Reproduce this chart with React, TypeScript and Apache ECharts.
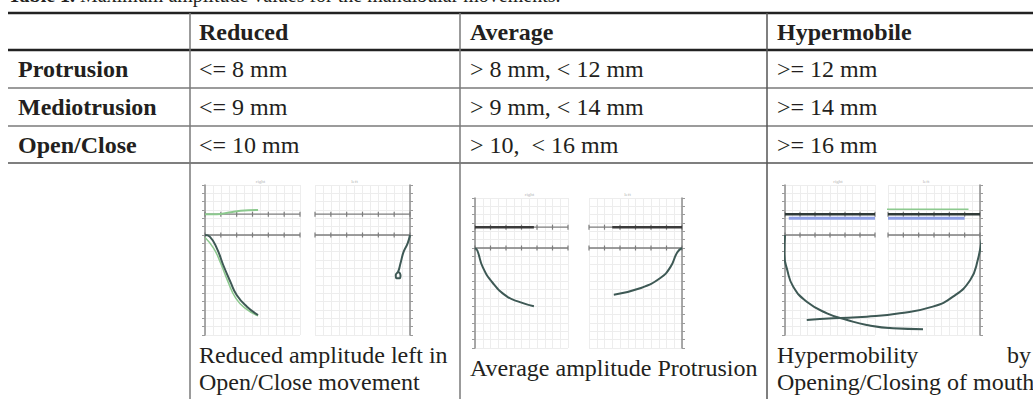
import React, { useEffect, useRef } from "react";
import * as echarts from "echarts";

// ---------- content ----------
const TITLE_BOLD = "Table 1.";
const TITLE_REST = " Maximum amplitude values for the mandibular movements.";
const COLUMN_HEADERS = ["Reduced", "Average", "Hypermobile"];
const ROW_LABELS = ["Protrusion", "Mediotrusion", "Open/Close"];
const REDUCED_VALUES = ["<= 8 mm", "<= 9 mm", "<= 10 mm"];
const AVERAGE_VALUES = ["> 8 mm, < 12 mm", "> 9 mm, < 14 mm", "> 10,  < 16 mm"];
const HYPER_VALUES = [">= 12 mm", ">= 14 mm", ">= 16 mm"];
const PANEL_TAGS = ["right", "left"];

// ---------- plot data (mm) ----------
const RULER_LEFT_X = [0, 2, 4, 6, 8, 10, 12];
const RULER_RIGHT_X = [-12, -10, -8, -6, -4, -2, 0];
const RULER_LEVELS = [0, 2.5];

const reducedLeftOpen = [[0, 0], [0.6, -0.2], [1.5, -1.6], [2.3, -3.6], [3.2, -5.6], [4.0, -7.2], [5.3, -8.6], [6.7, -9.6]];
const reducedLeftClose = [[0, -0.3], [1.1, -1.6], [1.9, -3.2], [2.9, -5.6], [3.9, -7.6], [5.1, -8.8], [6.7, -9.7]];
const reducedLeftTop = [[0, 2.5], [1.5, 2.5], [3.0, 2.7], [4.5, 2.9], [6.7, 3.0]];
const reducedRight = [[0, 0], [-0.3, -1], [-0.8, -2], [-1.2, -3.4], [-1.5, -4.4], [-1.8, -4.8], [-1.7, -5.2], [-1.3, -5.2], [-1.2, -4.8], [-1.5, -4.4]];

const averageLeft = [[0, 0], [0.3, -0.3], [1.0, -2.3], [2.3, -4.2], [4.1, -5.8], [5.8, -6.5], [7.6, -7.0]];
const averageLeftTop = [[0, 2.5], [7.6, 2.5]];
const averageRight = [[0, 0], [-0.6, -0.5], [-1.5, -2.3], [-2.8, -3.6], [-5.3, -4.8], [-8.8, -5.6]];
const averageRightTop = [[-9, 2.5], [0, 2.5]];

// hypermobile open/close traces, measured from the left-hand axis (both panels together)
const hyperOpenLeftSide = [[0, 0], [-0.1, -2.2], [0.3, -4.2], [1.1, -6.2], [2.9, -8.0], [5.6, -9.4], [8.3, -10.2], [10.9, -10.8], [14.4, -11.2], [18.4, -11.3]];
const hyperOpenRightSide = [[26.3, 0], [25.7, -3], [24.7, -5.4], [22.4, -7.4], [19.7, -8.6], [15.3, -9.4], [10.9, -9.8], [6.4, -10.0], [2.9, -10.2]];
const hyperLeftTop = [[0, 2.5], [12, 2.5]];
const hyperRightTop = [[-12, 2.5], [0, 2.5]];
const hyperLeftBlue = [[0.5, 2.0], [12, 2.0]];
const hyperRightBlue = [[-12, 2.0], [-2, 2.0]];
const hyperRightGreen = [[-13, 3.1], [-1.5, 3.1]];

// ---------- layout ----------
const W = 1033;
const H = 399;
const COL_X = [8, 190, 460, 767];
const ROW_Y = [13, 50, 88, 126, 163];
const TEXT_X = [18, 199, 470, 777];
const FONT = "Liberation Serif";

const PANELS = [
  { left: 205, top: 185, width: 95, side: "left" },
  { left: 315, top: 185, width: 95, side: "right" },
  { left: 475, top: 198, width: 93, side: "left" },
  { left: 589, top: 198, width: 93, side: "right" },
  { left: 785, top: 185, width: 90, side: "left" },
  { left: 888, top: 185, width: 92, side: "right" },
];
const PANEL_H = 150;
const OVERLAY = { left: 785, top: 185, width: 195, xMax: 26 };

const DARK = "#3e5955";
const GREEN = "#8cc98e";
const BLUE = "#8e9fe6";

export default function App() {
  const ref = useRef<HTMLDivElement>(null);

  useEffect(() => {
    const chart = echarts.init(ref.current!, null, { renderer: "svg" });

    const grids: any[] = PANELS.map((p) => ({ left: p.left, top: p.top, width: p.width, height: PANEL_H, containLabel: false }));
    grids.push({ left: OVERLAY.left, top: OVERLAY.top, width: OVERLAY.width, height: PANEL_H, containLabel: false });

    const xAxes: any[] = PANELS.map((p, i) => ({
      type: "value",
      gridIndex: i,
      min: p.side === "left" ? 0 : -12,
      max: p.side === "left" ? 12 : 0,
      interval: 1,
      axisLine: { show: false },
      axisTick: { show: false },
      axisLabel: { show: false },
      splitLine: { show: true, lineStyle: { color: "#ededed", width: 1 } },
    }));
    xAxes.push({ type: "value", gridIndex: 6, min: 0, max: OVERLAY.xMax, show: false, splitLine: { show: false } });

    const yAxes: any[] = PANELS.map((p, i) => ({
      type: "value",
      gridIndex: i,
      position: p.side,
      min: -12,
      max: 6,
      interval: 1,
      axisLine: { show: true, onZero: false, lineStyle: { color: "#8c8c8c", width: 1.5 } },
      axisTick: { show: true, length: 3, lineStyle: { color: "#9a9a9a" } },
      axisLabel: { show: false },
      splitLine: { show: true, lineStyle: { color: "#ededed", width: 1 } },
    }));
    yAxes.push({ type: "value", gridIndex: 6, min: -12, max: 6, show: false, splitLine: { show: false } });

    const series: any[] = [];
    PANELS.forEach((p, i) => {
      const xs = p.side === "left" ? RULER_LEFT_X : RULER_RIGHT_X;
      RULER_LEVELS.forEach((lv) => {
        series.push({
          type: "line",
          xAxisIndex: i,
          yAxisIndex: i,
          data: xs.map((x) => [x, lv]),
          symbol: "rect",
          symbolSize: [1.2, 5],
          itemStyle: { color: "#7d7d7d" },
          lineStyle: { color: "#7d7d7d", width: 1.3 },
          silent: true,
          z: 2,
        });
      });
    });

    const curve = (panel: number, data: number[][], color: string, width: number, z = 3) => ({
      type: "line",
      xAxisIndex: panel,
      yAxisIndex: panel,
      data,
      smooth: true,
      symbol: "none",
      clip: false,
      lineStyle: { color, width },
      silent: true,
      z,
    });

    series.push(curve(0, reducedLeftClose, GREEN, 1.5));
    series.push(curve(0, reducedLeftOpen, DARK, 2));
    series.push(curve(0, reducedLeftTop, GREEN, 2));
    series.push(curve(1, reducedRight, DARK, 2));
    series.push(curve(2, averageLeftTop, "#3b3b3b", 2.5));
    series.push(curve(2, averageLeft, DARK, 2));
    series.push(curve(3, averageRightTop, "#3b3b3b", 2.5));
    series.push(curve(3, averageRight, DARK, 2));
    series.push(curve(4, hyperLeftBlue, BLUE, 3));
    series.push(curve(5, hyperRightBlue, BLUE, 3));
    series.push(curve(5, hyperRightGreen, GREEN, 1.5));
    series.push(curve(4, hyperLeftTop, "#2f3a38", 2.5, 4));
    series.push(curve(5, hyperRightTop, "#2f3a38", 2.5, 4));
    series.push(curve(6, hyperOpenLeftSide, DARK, 2));
    series.push(curve(6, hyperOpenRightSide, DARK, 2));

    const graphic: any[] = [];
    const line = (x1: number, y1: number, x2: number, y2: number, stroke: string, lw: number) =>
      graphic.push({ type: "line", shape: { x1, y1, x2, y2 }, style: { stroke, lineWidth: lw }, silent: true, z: 10 });
    const text = (t: string, x: number, y: number, bold = false, size = 24, fill = "#231f20") =>
      graphic.push({
        type: "text",
        x,
        y,
        silent: true,
        z: 10,
        style: { text: t, fontSize: size, fontFamily: FONT, fontWeight: bold ? "bold" : "normal", fill, verticalAlign: "middle", align: "left" },
      });

    // table rules
    line(COL_X[0], ROW_Y[0], W, ROW_Y[0], "#222", 2.5);
    line(COL_X[0], ROW_Y[1], W, ROW_Y[1], "#222", 2.5);
    line(COL_X[0], ROW_Y[2], W, ROW_Y[2], "#7a7a7a", 1.5);
    line(COL_X[0], ROW_Y[3], W, ROW_Y[3], "#7a7a7a", 1.5);
    line(COL_X[0], ROW_Y[4], W, ROW_Y[4], "#555", 1.5);
    line(COL_X[1], ROW_Y[0], COL_X[1], H, "#7a7a7a", 1.5);
    line(COL_X[2], ROW_Y[0], COL_X[2], H, "#7a7a7a", 1.5);
    line(COL_X[3], ROW_Y[0], COL_X[3], H, "#555", 1.5);

    // title (cut at top, as in the reference)
    graphic.push({
      type: "text",
      x: 8,
      y: -5,
      silent: true,
      style: {
        text: `{b|${TITLE_BOLD}}{n|${TITLE_REST}}`,
        verticalAlign: "middle",
        rich: {
          b: { fontSize: 20, fontFamily: FONT, fontWeight: "bold", fill: "#231f20" },
          n: { fontSize: 20, fontFamily: FONT, fill: "#231f20" },
        },
      },
    });

    const hdrY = (ROW_Y[0] + ROW_Y[1]) / 2;
    COLUMN_HEADERS.forEach((h, i) => text(h, TEXT_X[i + 1], hdrY, true));
    ROW_LABELS.forEach((r, i) => {
      const cy = (ROW_Y[i + 1] + ROW_Y[i + 2]) / 2;
      text(r, TEXT_X[0], cy, true);
      text(REDUCED_VALUES[i], TEXT_X[1], cy);
      text(AVERAGE_VALUES[i], TEXT_X[2], cy);
      text(HYPER_VALUES[i], TEXT_X[3], cy);
    });

    // captions
    text("Reduced amplitude left in", TEXT_X[1], 355);
    text("Open/Close movement", TEXT_X[1], 382);
    text("Average amplitude Protrusion", TEXT_X[2], 368);
    text("Hypermobility", TEXT_X[3], 355);
    text("by", 1007, 355);
    text("Opening/Closing of mouth", TEXT_X[3], 382);

    // tiny panel tags
    PANELS.forEach((p, i) => {
      graphic.push({
        type: "text",
        x: p.left + p.width / 2 + (p.side === "left" ? 8 : -8),
        y: p.top - 4,
        silent: true,
        style: { text: PANEL_TAGS[i % 2], fontSize: 5, fontFamily: FONT, fill: "#b5b5b5", align: "center", verticalAlign: "middle" },
      });
    });

    chart.setOption({
      animation: false,
      backgroundColor: "#ffffff",
      grid: grids,
      xAxis: xAxes,
      yAxis: yAxes,
      series,
      graphic,
    });

    return () => chart.dispose();
  }, []);

  return <div ref={ref} style={{ position: "fixed", left: 0, top: 0, width: W, height: H, background: "#fff" }} />;
}
